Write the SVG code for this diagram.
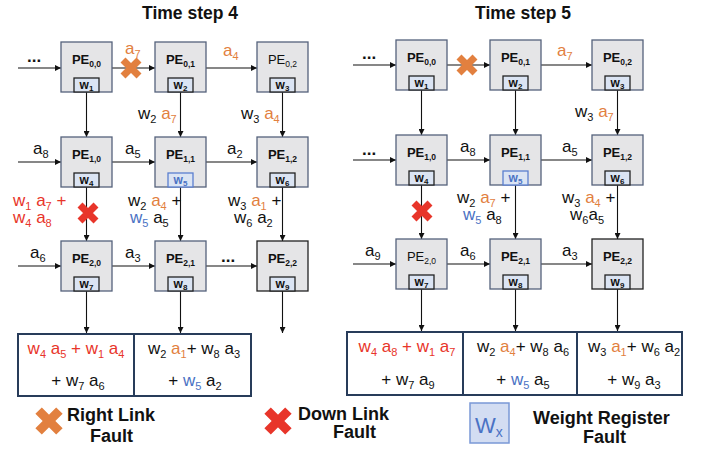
<svg xmlns="http://www.w3.org/2000/svg" xmlns:xlink="http://www.w3.org/1999/xlink" width="702" height="453" viewBox="0 0 702 453">
<style>
text{font-family:"Liberation Sans",Arial,sans-serif;fill:#111}
.title{font-size:17.5px;font-weight:bold;text-anchor:middle}
.pe{fill:#e5e5e7;stroke:#55627c;stroke-width:1.3}
.pek{fill:#e5e5e7;stroke:#222;stroke-width:1.3}
.pet{font-size:13px;font-weight:bold;text-anchor:middle}
.pen{font-size:13px;font-weight:normal;text-anchor:middle}
.ps{font-size:8.5px}
.wb{fill:#dbe4f3;stroke:#222;stroke-width:1.3}
.wbb{fill:#dbe4f3;stroke:#5b7fcf;stroke-width:1.3}
.wt{font-size:12px;font-weight:bold;text-anchor:middle}
.wts{font-size:8px}
.t{font-size:17px}
.s{font-size:11px}
.m{text-anchor:middle}
.o{fill:#e2803f}
.r{fill:#e8352a}
.b{fill:#4a72c4}
.dots{font-size:17px;font-weight:bold}
.out{fill:#fff;stroke:#283c5a;stroke-width:2}
.leg{font-size:18px;font-weight:bold}
.cn path{fill:none;stroke:#111;stroke-width:1.1}
.xo{stroke:#e2803f;stroke-width:7;fill:none}
.xr{stroke:#e8352a;stroke-width:7;fill:none}
</style>
<defs>
<marker id="ah" markerUnits="userSpaceOnUse" markerWidth="7" markerHeight="6" refX="6" refY="3" orient="auto">
<path d="M0,0L6,3L0,6z" fill="#111"/>
</marker>
<path id="xm" d="M-8,-8L8,8M8,-8L-8,8"/>
</defs>

<text class="title" x="190" y="19">Time step 4</text>
<text class="title" x="523" y="19">Time step 5</text>

<!-- Connectors -->
<g id="connectors" class="cn">
<path marker-end="url(#ah)" d="M18,68H61"/>
<path marker-end="url(#ah)" d="M112,68H155"/>
<path marker-end="url(#ah)" d="M206,68H257"/>
<path marker-end="url(#ah)" d="M18,162H61"/>
<path marker-end="url(#ah)" d="M112,162H155"/>
<path marker-end="url(#ah)" d="M206,162H257"/>
<path marker-end="url(#ah)" d="M18,266H61"/>
<path marker-end="url(#ah)" d="M112,266H155"/>
<path marker-end="url(#ah)" d="M206,266H257"/>
<path marker-end="url(#ah)" d="M86.5,92V137"/>
<path marker-end="url(#ah)" d="M180.5,92V137"/>
<path marker-end="url(#ah)" d="M282.5,92V137"/>
<path marker-end="url(#ah)" d="M86.5,186V241"/>
<path marker-end="url(#ah)" d="M180.5,186V241"/>
<path marker-end="url(#ah)" d="M282.5,186V241"/>
<path marker-end="url(#ah)" d="M86.5,291V333"/>
<path marker-end="url(#ah)" d="M180.5,291V333"/>
<path marker-end="url(#ah)" d="M282.5,291V333"/>

<path marker-end="url(#ah)" d="M353,65H396"/>
<path marker-end="url(#ah)" d="M447,65H490"/>
<path marker-end="url(#ah)" d="M541,65H592"/>
<path marker-end="url(#ah)" d="M353,160H396"/>
<path marker-end="url(#ah)" d="M447,160H490"/>
<path marker-end="url(#ah)" d="M541,160H592"/>
<path marker-end="url(#ah)" d="M353,264H396"/>
<path marker-end="url(#ah)" d="M447,264H490"/>
<path marker-end="url(#ah)" d="M541,264H592"/>
<path marker-end="url(#ah)" d="M421.5,90V135"/>
<path marker-end="url(#ah)" d="M515.5,90V135"/>
<path marker-end="url(#ah)" d="M617.5,90V135"/>
<path marker-end="url(#ah)" d="M421.5,185V239"/>
<path marker-end="url(#ah)" d="M515.5,185V239"/>
<path marker-end="url(#ah)" d="M617.5,185V239"/>
<path marker-end="url(#ah)" d="M421.5,289V331"/>
<path marker-end="url(#ah)" d="M515.5,289V331"/>
<path marker-end="url(#ah)" d="M617.5,289V331"/>
</g>

<!-- Left grid nodes -->
<g id="L-pe00"><rect class="pe" x="61" y="42" width="51" height="50"/><text class="pet" x="86.5" y="64">PE<tspan class="ps" dy="3">0,0</tspan></text><rect class="wb" x="74" y="78" width="25" height="14"/><text class="wt" x="86.5" y="88.5">w<tspan class="wts" dy="2">1</tspan></text></g>
<g id="L-pe01"><rect class="pe" x="155" y="42" width="51" height="50"/><text class="pet" x="180.5" y="64">PE<tspan class="ps" dy="3">0,1</tspan></text><rect class="wb" x="168" y="78" width="25" height="14"/><text class="wt" x="180.5" y="88.5">w<tspan class="wts" dy="2">2</tspan></text></g>
<g id="L-pe02"><rect class="pe" x="257" y="42" width="51" height="50"/><text class="pen" x="282.5" y="64">PE<tspan class="ps" dy="3">0,2</tspan></text><rect class="wb" x="270" y="78" width="25" height="14"/><text class="wt" x="282.5" y="88.5">w<tspan class="wts" dy="2">3</tspan></text></g>
<g id="L-pe10"><rect class="pe" x="61" y="137" width="51" height="50"/><text class="pet" x="86.5" y="159">PE<tspan class="ps" dy="3">1,0</tspan></text><rect class="wb" x="74" y="173" width="25" height="14"/><text class="wt" x="86.5" y="183.5">w<tspan class="wts" dy="2">4</tspan></text></g>
<g id="L-pe11"><rect class="pe" x="155" y="137" width="51" height="50"/><text class="pet" x="180.5" y="159">PE<tspan class="ps" dy="3">1,1</tspan></text><rect class="wbb" x="168" y="173" width="25" height="14"/><text class="wt b" x="180.5" y="183.5">w<tspan class="wts" dy="2">5</tspan></text></g>
<g id="L-pe12"><rect class="pe" x="257" y="137" width="51" height="50"/><text class="pet" x="282.5" y="159">PE<tspan class="ps" dy="3">1,2</tspan></text><rect class="wb" x="270" y="173" width="25" height="14"/><text class="wt" x="282.5" y="183.5">w<tspan class="wts" dy="2">6</tspan></text></g>
<g id="L-pe20"><rect class="pe" x="61" y="241" width="51" height="50"/><text class="pet" x="86.5" y="263">PE<tspan class="ps" dy="3">2,0</tspan></text><rect class="wb" x="74" y="277" width="25" height="14"/><text class="wt" x="86.5" y="287.5">w<tspan class="wts" dy="2">7</tspan></text></g>
<g id="L-pe21"><rect class="pe" x="155" y="241" width="51" height="50"/><text class="pet" x="180.5" y="263">PE<tspan class="ps" dy="3">2,1</tspan></text><rect class="wb" x="168" y="277" width="25" height="14"/><text class="wt" x="180.5" y="287.5">w<tspan class="wts" dy="2">8</tspan></text></g>
<g id="L-pe22"><rect class="pek" x="257" y="241" width="51" height="50"/><text class="pet" x="282.5" y="263">PE<tspan class="ps" dy="3">2,2</tspan></text><rect class="wb" x="270" y="277" width="25" height="14"/><text class="wt" x="282.5" y="287.5">w<tspan class="wts" dy="2">9</tspan></text></g>

<!-- Left labels -->
<g id="L-labels">
<text class="dots" x="27" y="62">...</text>
<text class="t o" x="125" y="54">a<tspan class="s" dy="4">7</tspan></text>
<text class="t o" x="223" y="56">a<tspan class="s" dy="4">4</tspan></text>
<text class="t" x="138" y="119">w<tspan class="s" dy="4">2</tspan><tspan dy="-4"> </tspan><tspan class="o">a</tspan><tspan class="s o" dy="4">7</tspan></text>
<text class="t" x="241" y="119">w<tspan class="s" dy="4">3</tspan><tspan dy="-4"> </tspan><tspan class="o">a</tspan><tspan class="s o" dy="4">4</tspan></text>
<text class="t" x="33" y="154">a<tspan class="s" dy="4">8</tspan></text>
<text class="t" x="125" y="154">a<tspan class="s" dy="4">5</tspan></text>
<text class="t" x="227" y="154">a<tspan class="s" dy="4">2</tspan></text>
<text class="t r" x="13" y="206">w<tspan class="s" dy="4">1</tspan><tspan dy="-4"> a</tspan><tspan class="s" dy="4">7</tspan><tspan dy="-4"> +</tspan></text>
<text class="t r" x="13" y="223">w<tspan class="s" dy="4">4</tspan><tspan dy="-4"> a</tspan><tspan class="s" dy="4">8</tspan></text>
<text class="t" x="128" y="206">w<tspan class="s" dy="4">2</tspan><tspan dy="-4"> </tspan><tspan class="o">a</tspan><tspan class="s o" dy="4">4</tspan><tspan dy="-4"> +</tspan></text>
<text class="t" x="130" y="223"><tspan class="b">w</tspan><tspan class="s b" dy="4">5</tspan><tspan dy="-4"> a</tspan><tspan class="s" dy="4">5</tspan></text>
<text class="t" x="228" y="206">w<tspan class="s" dy="4">3</tspan><tspan dy="-4"> </tspan><tspan class="o">a</tspan><tspan class="s o" dy="4">1</tspan><tspan dy="-4"> +</tspan></text>
<text class="t" x="234" y="223">w<tspan class="s" dy="4">6</tspan><tspan dy="-4"> a</tspan><tspan class="s" dy="4">2</tspan></text>
<text class="t" x="30" y="258">a<tspan class="s" dy="4">6</tspan></text>
<text class="t" x="125" y="258">a<tspan class="s" dy="4">3</tspan></text>
<text class="dots" x="221" y="262">...</text>
<use xlink:href="#xm" href="#xm" class="xo" x="131" y="68"/>
<use xlink:href="#xm" href="#xm" class="xr" x="88" y="213"/>
</g>

<!-- Left outputs -->
<g id="L-out0"><rect class="out" x="18" y="334" width="116" height="62"/>
<text class="t r m" x="76" y="354">w<tspan class="s" dy="4">4</tspan><tspan dy="-4"> a</tspan><tspan class="s" dy="4">5</tspan><tspan dy="-4"> + w</tspan><tspan class="s" dy="4">1</tspan><tspan dy="-4"> a</tspan><tspan class="s" dy="4">4</tspan></text>
<text class="t m" x="78" y="386">+ w<tspan class="s" dy="4">7</tspan><tspan dy="-4"> a</tspan><tspan class="s" dy="4">6</tspan></text></g>
<g id="L-out1"><rect class="out" x="134" y="334" width="117" height="62"/>
<text class="t m" x="194" y="354">w<tspan class="s" dy="4">2</tspan><tspan dy="-4"> </tspan><tspan class="o">a</tspan><tspan class="s o" dy="4">1</tspan><tspan dy="-4">+ w</tspan><tspan class="s" dy="4">8</tspan><tspan dy="-4"> a</tspan><tspan class="s" dy="4">3</tspan></text>
<text class="t m" x="195" y="386">+ <tspan class="b">w</tspan><tspan class="s b" dy="4">5</tspan><tspan dy="-4"> a</tspan><tspan class="s" dy="4">2</tspan></text></g>

<!-- Right grid nodes -->
<g id="R-pe00"><rect class="pe" x="396" y="40" width="51" height="50"/><text class="pet" x="421.5" y="62">PE<tspan class="ps" dy="3">0,0</tspan></text><rect class="wb" x="409" y="76" width="25" height="14"/><text class="wt" x="421.5" y="86.5">w<tspan class="wts" dy="2">1</tspan></text></g>
<g id="R-pe01"><rect class="pe" x="490" y="40" width="51" height="50"/><text class="pet" x="515.5" y="62">PE<tspan class="ps" dy="3">0,1</tspan></text><rect class="wb" x="503" y="76" width="25" height="14"/><text class="wt" x="515.5" y="86.5">w<tspan class="wts" dy="2">2</tspan></text></g>
<g id="R-pe02"><rect class="pe" x="592" y="40" width="51" height="50"/><text class="pet" x="617.5" y="62">PE<tspan class="ps" dy="3">0,2</tspan></text><rect class="wb" x="605" y="76" width="25" height="14"/><text class="wt" x="617.5" y="86.5">w<tspan class="wts" dy="2">3</tspan></text></g>
<g id="R-pe10"><rect class="pe" x="396" y="135" width="51" height="50"/><text class="pet" x="421.5" y="157">PE<tspan class="ps" dy="3">1,0</tspan></text><rect class="wb" x="409" y="171" width="25" height="14"/><text class="wt" x="421.5" y="181.5">w<tspan class="wts" dy="2">4</tspan></text></g>
<g id="R-pe11"><rect class="pe" x="490" y="135" width="51" height="50"/><text class="pet" x="515.5" y="157">PE<tspan class="ps" dy="3">1,1</tspan></text><rect class="wbb" x="503" y="171" width="25" height="14"/><text class="wt b" x="515.5" y="181.5">w<tspan class="wts" dy="2">5</tspan></text></g>
<g id="R-pe12"><rect class="pe" x="592" y="135" width="51" height="50"/><text class="pet" x="617.5" y="157">PE<tspan class="ps" dy="3">1,2</tspan></text><rect class="wb" x="605" y="171" width="25" height="14"/><text class="wt" x="617.5" y="181.5">w<tspan class="wts" dy="2">6</tspan></text></g>
<g id="R-pe20"><rect class="pe" x="396" y="239" width="51" height="50"/><text class="pen" x="421.5" y="261">PE<tspan class="ps" dy="3">2,0</tspan></text><rect class="wb" x="409" y="275" width="25" height="14"/><text class="wt" x="421.5" y="285.5">w<tspan class="wts" dy="2">7</tspan></text></g>
<g id="R-pe21"><rect class="pe" x="490" y="239" width="51" height="50"/><text class="pet" x="515.5" y="261">PE<tspan class="ps" dy="3">2,1</tspan></text><rect class="wb" x="503" y="275" width="25" height="14"/><text class="wt" x="515.5" y="285.5">w<tspan class="wts" dy="2">8</tspan></text></g>
<g id="R-pe22"><rect class="pek" x="592" y="239" width="51" height="50"/><text class="pet" x="617.5" y="261">PE<tspan class="ps" dy="3">2,2</tspan></text><rect class="wb" x="605" y="275" width="25" height="14"/><text class="wt" x="617.5" y="285.5">w<tspan class="wts" dy="2">9</tspan></text></g>

<!-- Right labels -->
<g id="R-labels">
<text class="dots" x="362" y="59">...</text>
<text class="t o" x="557" y="56">a<tspan class="s" dy="4">7</tspan></text>
<text class="t" x="575" y="117">w<tspan class="s" dy="4">3</tspan><tspan dy="-4"> </tspan><tspan class="o">a</tspan><tspan class="s o" dy="4">7</tspan></text>
<text class="dots" x="362" y="155">...</text>
<text class="t" x="460" y="152">a<tspan class="s" dy="4">8</tspan></text>
<text class="t" x="562" y="152">a<tspan class="s" dy="4">5</tspan></text>
<text class="t" x="457" y="203">w<tspan class="s" dy="4">2</tspan><tspan dy="-4"> </tspan><tspan class="o">a</tspan><tspan class="s o" dy="4">7</tspan><tspan dy="-4"> +</tspan></text>
<text class="t" x="463" y="220"><tspan class="b">w</tspan><tspan class="s b" dy="4">5</tspan><tspan dy="-4"> a</tspan><tspan class="s" dy="4">8</tspan></text>
<text class="t" x="562" y="203">w<tspan class="s" dy="4">3</tspan><tspan dy="-4"> </tspan><tspan class="o">a</tspan><tspan class="s o" dy="4">4</tspan><tspan dy="-4"> +</tspan></text>
<text class="t" x="570" y="220">w<tspan class="s" dy="4">6</tspan><tspan dy="-4">a</tspan><tspan class="s" dy="4">5</tspan></text>
<text class="t" x="365" y="256">a<tspan class="s" dy="4">9</tspan></text>
<text class="t" x="460" y="256">a<tspan class="s" dy="4">6</tspan></text>
<text class="t" x="562" y="256">a<tspan class="s" dy="4">3</tspan></text>
<use xlink:href="#xm" href="#xm" class="xo" x="467" y="65"/>
<use xlink:href="#xm" href="#xm" class="xr" x="422" y="211"/>
</g>

<!-- Right outputs -->
<g id="R-out0"><rect class="out" x="347" y="332" width="116" height="63"/>
<text class="t r m" x="407" y="352">w<tspan class="s" dy="4">4</tspan><tspan dy="-4"> a</tspan><tspan class="s" dy="4">8</tspan><tspan dy="-4"> + w</tspan><tspan class="s" dy="4">1</tspan><tspan dy="-4"> a</tspan><tspan class="s" dy="4">7</tspan></text>
<text class="t m" x="408" y="385">+ w<tspan class="s" dy="4">7</tspan><tspan dy="-4"> a</tspan><tspan class="s" dy="4">9</tspan></text></g>
<g id="R-out1"><rect class="out" x="463" y="332" width="114" height="63"/>
<text class="t m" x="523" y="352">w<tspan class="s" dy="4">2</tspan><tspan dy="-4"> </tspan><tspan class="o">a</tspan><tspan class="s o" dy="4">4</tspan><tspan dy="-4">+ w</tspan><tspan class="s" dy="4">8</tspan><tspan dy="-4"> a</tspan><tspan class="s" dy="4">6</tspan></text>
<text class="t m" x="523" y="385">+ <tspan class="b">w</tspan><tspan class="s b" dy="4">5</tspan><tspan dy="-4"> a</tspan><tspan class="s" dy="4">5</tspan></text></g>
<g id="R-out2"><rect class="out" x="577" y="332" width="105" height="63"/>
<text class="t" x="588" y="352">w<tspan class="s" dy="4">3</tspan><tspan dy="-4"> </tspan><tspan class="o">a</tspan><tspan class="s o" dy="4">1</tspan><tspan dy="-4">+ w</tspan><tspan class="s" dy="4">6</tspan><tspan dy="-4"> a</tspan><tspan class="s" dy="4">2</tspan></text>
<text class="t m" x="634" y="385">+ w<tspan class="s" dy="4">9</tspan><tspan dy="-4"> a</tspan><tspan class="s" dy="4">3</tspan></text></g>

<!-- Legend -->
<g id="legend-right-link">
<use xlink:href="#xm" href="#xm" class="xo" transform="translate(49,421) scale(1.3)"/>
<text class="leg" x="67" y="421">Right Link</text>
<text class="leg" x="90" y="442">Fault</text>
</g>
<g id="legend-down-link">
<use xlink:href="#xm" href="#xm" class="xr" transform="translate(278,421) scale(1.3)"/>
<text class="leg" x="298" y="420">Down Link</text>
<text class="leg" x="333" y="438">Fault</text>
</g>
<g id="legend-weight">
<rect x="470" y="403" width="39" height="40" fill="#d3ddf2" stroke="#7a98d6" stroke-width="1.5"/>
<text x="475" y="433" font-size="22" fill="#4a72c4" style="fill:#4a72c4">W<tspan font-size="14" dy="4">x</tspan></text>
<text class="leg" x="533" y="424">Weight Register</text>
<text class="leg" x="583" y="443">Fault</text>
</g>
</svg>
